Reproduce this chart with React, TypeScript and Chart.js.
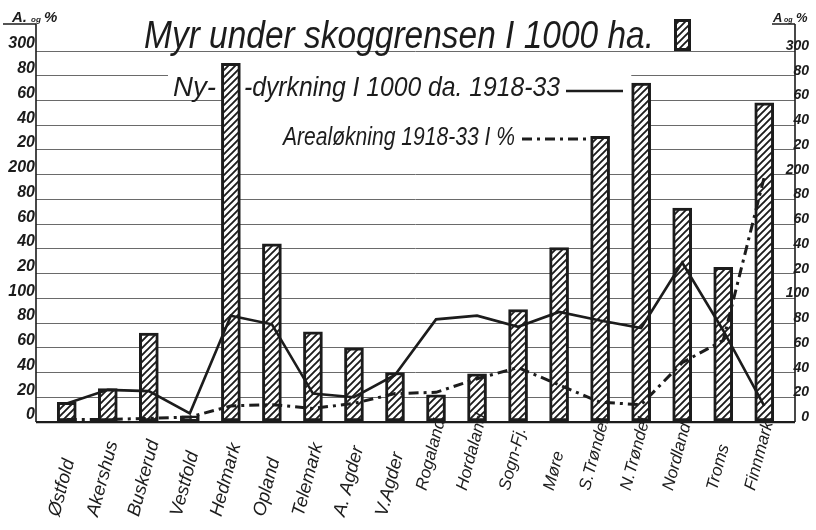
import React, { useEffect, useRef } from 'react';
import { Chart, registerables } from 'chart.js';

Chart.register(...registerables);

// ---------- data ----------
const categories = [
  'Østfold', 'Akershus', 'Buskerud', 'Vestfold', 'Hedmark', 'Opland', 'Telemark',
  'A. Agder', 'V.Agder', 'Rogaland', 'Hordaland', 'Sogn-Fj.', 'Møre', 'S.Trøndel.',
  'N.Trøndel.', 'Nordland', 'Troms', 'Finnmark',
];
// Myr under skoggrensen i 1000 ha (bars)
const myrValues = [16, 27, 72, 5, 290, 144, 73, 60, 40, 22, 39, 91, 141, 231, 274, 173, 125, 258];
// Nydyrkning i 1000 da 1918-33 (solid line)
const nydyrkningValues = [15, 26, 25, 7, 86, 79, 23, 20, 38, 83, 86, 77, 89, 82, 76, 129, 74, 13];
// Arealøkning 1918-33 i % (dash-dot line)
const arealokningValues = [2, 2, 3, 4, 13, 14, 11, 15, 23, 24, 35, 44, 30, 16, 14, 48, 66, 198];
const yTickValues = [0, 20, 40, 60, 80, 100, 120, 140, 160, 180, 200, 220, 240, 260, 280, 300];

const titleText = 'Myr under skoggrensen I 1000 ha.';
const legendNy = 'Ny-';
const legendDyrk = '-dyrkning I 1000 da. 1918-33';
const legendAreal = 'Arealøkning 1918-33 I %';

const INK = '#1c1c1c';
const FONT = '"Liberation Sans", Arial, sans-serif';

function tickLabel(v: number): string {
  if (v === 0) return '0';
  if (v % 100 === 0) return String(v);
  return String(v % 100);
}

function makeHatch(): CanvasPattern | string {
  const c = document.createElement('canvas');
  c.width = 7;
  c.height = 7;
  const g = c.getContext('2d');
  if (!g) return '#fff';
  g.fillStyle = '#ffffff';
  g.fillRect(0, 0, 7, 7);
  g.strokeStyle = INK;
  g.lineWidth = 1.9;
  g.beginPath();
  g.moveTo(-1, 8); g.lineTo(8, -1);
  g.moveTo(-1, 1); g.lineTo(1, -1);
  g.moveTo(6, 8); g.lineTo(8, 6);
  g.stroke();
  return g.createPattern(c, 'repeat') || '#fff';
}

function drawFit(ctx: CanvasRenderingContext2D, text: string, x: number, baseline: number, width: number, size: number, weight = 'normal') {
  ctx.save();
  ctx.font = `italic ${weight} ${size}px ${FONT}`;
  const w = ctx.measureText(text).width;
  ctx.translate(x, baseline);
  ctx.scale(width / w, 1);
  ctx.textAlign = 'left';
  ctx.textBaseline = 'alphabetic';
  ctx.fillStyle = INK;
  ctx.fillText(text, 0, 0);
  ctx.restore();
}

export default function App() {
  const ref = useRef<HTMLCanvasElement | null>(null);

  useEffect(() => {
    const canvas = ref.current;
    if (!canvas) return;
    const hatch = makeHatch();

    const decor = {
      id: 'decor',
      beforeDraw(chart: any) {
        const ctx = chart.ctx as CanvasRenderingContext2D;
        ctx.save();
        ctx.fillStyle = '#ffffff';
        ctx.fillRect(0, 0, chart.width, chart.height);
        ctx.restore();
      },
      beforeDatasetsDraw(chart: any) {
        const ctx = chart.ctx as CanvasRenderingContext2D;
        const xs = chart.scales.x;
        const hed = xs.getPixelForValue(4);
        const ntr = xs.getPixelForValue(14);
        ctx.save();
        ctx.fillStyle = '#ffffff';
        // white field behind the legend texts
        ctx.fillRect(168, 62, ntr - 10 - 168, 36);
        ctx.fillRect(hed + 9, 62, ntr - 10 - (hed + 9), 97);
        ctx.restore();
      },
      afterDraw(chart: any) {
        const ctx = chart.ctx as CanvasRenderingContext2D;
        const area = chart.chartArea;
        const xs = chart.scales.x;
        const y2 = chart.scales.y2;
        ctx.save();
        ctx.strokeStyle = INK;
        ctx.fillStyle = INK;
        // axis lines
        ctx.lineWidth = 1.6;
        ctx.beginPath();
        ctx.moveTo(area.left, 24); ctx.lineTo(area.left, area.bottom);
        ctx.moveTo(area.right, 24); ctx.lineTo(area.right, area.bottom);
        // underline of axis units
        ctx.moveTo(3, 24); ctx.lineTo(area.left, 24);
        ctx.moveTo(772, 24); ctx.lineTo(area.right, 24);
        ctx.stroke();

        // axis unit labels "A. og %"
        ctx.textBaseline = 'alphabetic';
        ctx.textAlign = 'left';
        ctx.font = `italic bold 15px ${FONT}`;
        ctx.fillText('A.', 12, 22);
        ctx.font = `italic bold 8px ${FONT}`;
        ctx.fillText('og', 31, 22);
        ctx.font = `italic bold 15px ${FONT}`;
        ctx.fillText('%', 44, 22);
        ctx.font = `italic bold 13px ${FONT}`;
        ctx.fillText('A', 773, 22);
        ctx.font = `italic bold 7px ${FONT}`;
        ctx.fillText('og', 784, 22);
        ctx.font = `italic bold 13px ${FONT}`;
        ctx.fillText('%', 796, 22);

        // right-hand tick labels, right-aligned, from the y2 scale
        ctx.font = `italic bold 14px ${FONT}`;
        ctx.textAlign = 'right';
        ctx.textBaseline = 'alphabetic';
        yTickValues.forEach((v) => {
          const py = y2.getPixelForValue(v);
          ctx.fillText(tickLabel(v), 809, py - 1);
        });
        ctx.textAlign = 'left';

        // title
        drawFit(ctx, titleText, 144, 48, 510, 38);
        // title legend box
        ctx.fillStyle = hatch as any;
        ctx.fillRect(674, 19, 17, 32);
        ctx.lineWidth = 3;
        ctx.strokeRect(675.5, 20.5, 14, 29);

        // legend rows
        ctx.fillStyle = INK;
        drawFit(ctx, legendNy, 173, 96, 43, 28);
        drawFit(ctx, legendDyrk, 244, 96, 316, 28);
        drawFit(ctx, legendAreal, 283, 145, 232, 25);
        ctx.lineWidth = 2.6;
        ctx.setLineDash([]);
        ctx.beginPath();
        ctx.moveTo(566, 91); ctx.lineTo(623, 91);
        ctx.stroke();
        ctx.lineWidth = 3;
        ctx.setLineDash([10, 5, 3, 5]);
        ctx.beginPath();
        ctx.moveTo(522, 139); ctx.lineTo(591, 139);
        ctx.stroke();
        ctx.setLineDash([]);

        // category labels, rotated
        const ang = (75 * Math.PI) / 180;
        ctx.textBaseline = 'middle';
        ctx.textAlign = 'left';
        categories.forEach((lab, i) => {
          const cx = xs.getPixelForValue(i);
          ctx.font = `italic ${i < 9 ? 18.5 : 17}px ${FONT}`;
          const w = ctx.measureText(lab).width;
          const y0 = i < 9 ? 516 : 490;
          const x0 = cx - 5 - (w / 2) * Math.cos(ang);
          ctx.save();
          ctx.translate(x0, y0);
          ctx.rotate(-ang);
          ctx.fillText(lab, 0, 0);
          ctx.restore();
        });
        ctx.restore();
      },
    };

    const chart = new Chart(canvas, {
      type: 'bar',
      data: {
        datasets: [
          {
            type: 'line',
            label: 'Nydyrkning i 1000 da. 1918-33',
            data: nydyrkningValues.map((v, i) => ({ x: i, y: v })),
            borderColor: INK,
            borderWidth: 2.6,
            pointRadius: 0,
            tension: 0,
            order: 0,
            yAxisID: 'y',
          } as any,
          {
            type: 'line',
            label: 'Arealøkning 1918-33 i %',
            data: arealokningValues.map((v, i) => ({ x: i, y: v })),
            borderColor: INK,
            borderWidth: 3,
            borderDash: [10, 5, 3, 5],
            pointRadius: 0,
            tension: 0,
            order: 1,
            yAxisID: 'y',
          } as any,
          {
            type: 'bar',
            label: 'Myr under skoggrensen i 1000 ha.',
            data: myrValues.map((v, i) => ({ x: i, y: v })),
            backgroundColor: hatch as any,
            borderColor: INK,
            borderWidth: 3,
            borderSkipped: false,
            barThickness: 19,
            order: 2,
            yAxisID: 'y',
          } as any,
        ],
      },
      options: {
        responsive: false,
        animation: false,
        layout: { padding: { top: 51, right: 8, left: 0, bottom: 0 } },
        plugins: { legend: { display: false }, tooltip: { enabled: false } },
        scales: {
          x: {
            type: 'linear',
            min: -0.75,
            max: 17.75,
            offset: false,
            grid: { display: false, offset: false },
            border: { display: false },
            ticks: { display: false },
            afterFit: (s: any) => { s.height = 108; },
          },
          y: {
            type: 'linear',
            position: 'left',
            min: 0,
            max: 300,
            afterBuildTicks: (s: any) => { s.ticks = yTickValues.map((v) => ({ value: v })); },
            ticks: {
              callback: (v: any) => tickLabel(Number(v)),
              font: { family: FONT, size: 16, style: 'italic', weight: 'bold' },
              color: INK,
              padding: 1,
              labelOffset: -7,
              crossAlign: 'near',
            },
            grid: {
              drawTicks: false,
              color: (c: any) => (c.tick && c.tick.value === 0 ? INK : '#6a6a6a'),
              lineWidth: (c: any) => (c.tick && c.tick.value === 0 ? 2.2 : 1),
            },
            border: { display: false },
            afterFit: (s: any) => { s.width = 36; },
          },
          y2: {
            type: 'linear',
            position: 'right',
            min: 0,
            max: 300,
            ticks: { display: false },
            grid: { display: false, drawTicks: false },
            border: { display: false },
            afterFit: (s: any) => { s.width = 13; },
          },
        },
      } as any,
      plugins: [decor],
    });

    return () => chart.destroy();
  }, []);

  return (
    <div style={{ position: 'absolute', left: 0, top: 0, width: 816, height: 530, background: '#fff' }}>
      <canvas ref={ref} width={816} height={530} style={{ display: 'block', width: 816, height: 530 }} />
    </div>
  );
}
